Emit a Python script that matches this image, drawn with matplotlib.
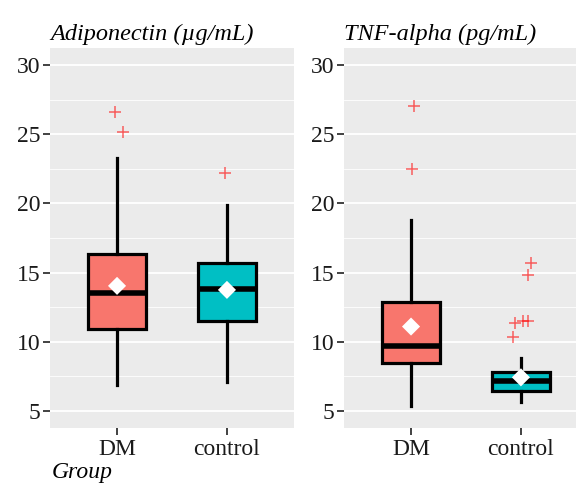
import numpy as np
import matplotlib.pyplot as plt

plt.rcParams["font.family"] = ["Liberation Serif", "DejaVu Serif"]

# -----------------------------
# data
# -----------------------------
groups = ["DM", "control"]
colors = ["#F8766D", "#00BFC4"]
panels = ["Adiponectin (\u00b5g/mL)", "TNF-alpha (pg/mL)"]

# box stats per panel: [DM, control]
whislo = [[6.85, 7.09], [5.36, 5.64]]
q1 = [[10.94, 11.52], [8.46, 6.41]]
med = [[13.56, 13.85], [9.66, 7.13]]
q3 = [[16.35, 15.68], [12.91, 7.78]]
whishi = [[23.3, 19.87], [18.83, 8.82]]
means = [[14.04, 13.75], [11.1, 7.43]]

# outliers (value, horizontal jitter) per panel and group
out_vals = [
    [[26.6, 25.15], [22.2]],
    [[27.05, 22.47], [15.68, 14.84, 11.5, 11.5, 11.35, 10.34]],
]
out_jit = [
    [[-0.018, 0.052], [-0.015]],
    [[0.03, 0.012], [0.088, 0.066, 0.021, 0.061, -0.055, -0.075]],
]

# -----------------------------
# figure
# -----------------------------
fig = plt.figure(figsize=(5.76, 4.83), dpi=100)
axes = [fig.add_axes([0.0868, 0.1139, 0.4236, 0.7867]),
        fig.add_axes([0.5972, 0.1139, 0.4236, 0.7867])]

pos = [1, 2]
for p, ax in enumerate(axes):
    ax.set_facecolor("#EBEBEB")
    for s in ax.spines.values():
        s.set_visible(False)

    # grid
    for y in [5, 10, 15, 20, 25, 30]:
        ax.axhline(y, color="white", lw=1.3, zorder=0)
    for y in [7.5, 12.5, 17.5, 22.5, 27.5]:
        ax.axhline(y, color="white", lw=0.6, zorder=0)

    stats = []
    for g in range(2):
        stats.append(dict(whislo=whislo[p][g], q1=q1[p][g], med=med[p][g],
                          q3=q3[p][g], whishi=whishi[p][g], label=groups[g]))
    bp = ax.bxp(stats, positions=pos, widths=0.52, patch_artist=True,
                showfliers=False, showcaps=False,
                boxprops=dict(lw=2.3, edgecolor="black"),
                whiskerprops=dict(lw=2.3, color="black"),
                medianprops=dict(lw=4, color="black", solid_capstyle="butt"),
                zorder=2)
    for patch, c in zip(bp["boxes"], colors):
        patch.set_facecolor(c)

    # outliers
    for g in range(2):
        xs = pos[g] + np.array(out_jit[p][g])
        ax.scatter(xs, out_vals[p][g], marker="+", s=65, color="red",
                   alpha=0.6, lw=1.1, zorder=3)

    # means
    ax.scatter(pos, means[p], marker="D", s=85, color="white",
               edgecolors="none", zorder=4)

    ax.set_xlim(0.39, 2.61)
    ax.set_ylim(3.77, 31.23)
    ax.set_yticks([5, 10, 15, 20, 25, 30])
    ax.set_xticks(pos)
    ax.set_xticklabels(groups)
    ax.tick_params(axis="both", colors="#333333", length=5, width=1.3,
                   labelsize=17, labelcolor="#1a1a1a", pad=2)
    ax.tick_params(axis="x", pad=3)
    ax.set_title(panels[p], loc="left", fontsize=17.5, style="italic", pad=6)

fig.text(0.09, 0.011, "Group", fontsize=17, style="italic", ha="left",
         va="baseline")

fig.savefig("out.png", dpi=100)
